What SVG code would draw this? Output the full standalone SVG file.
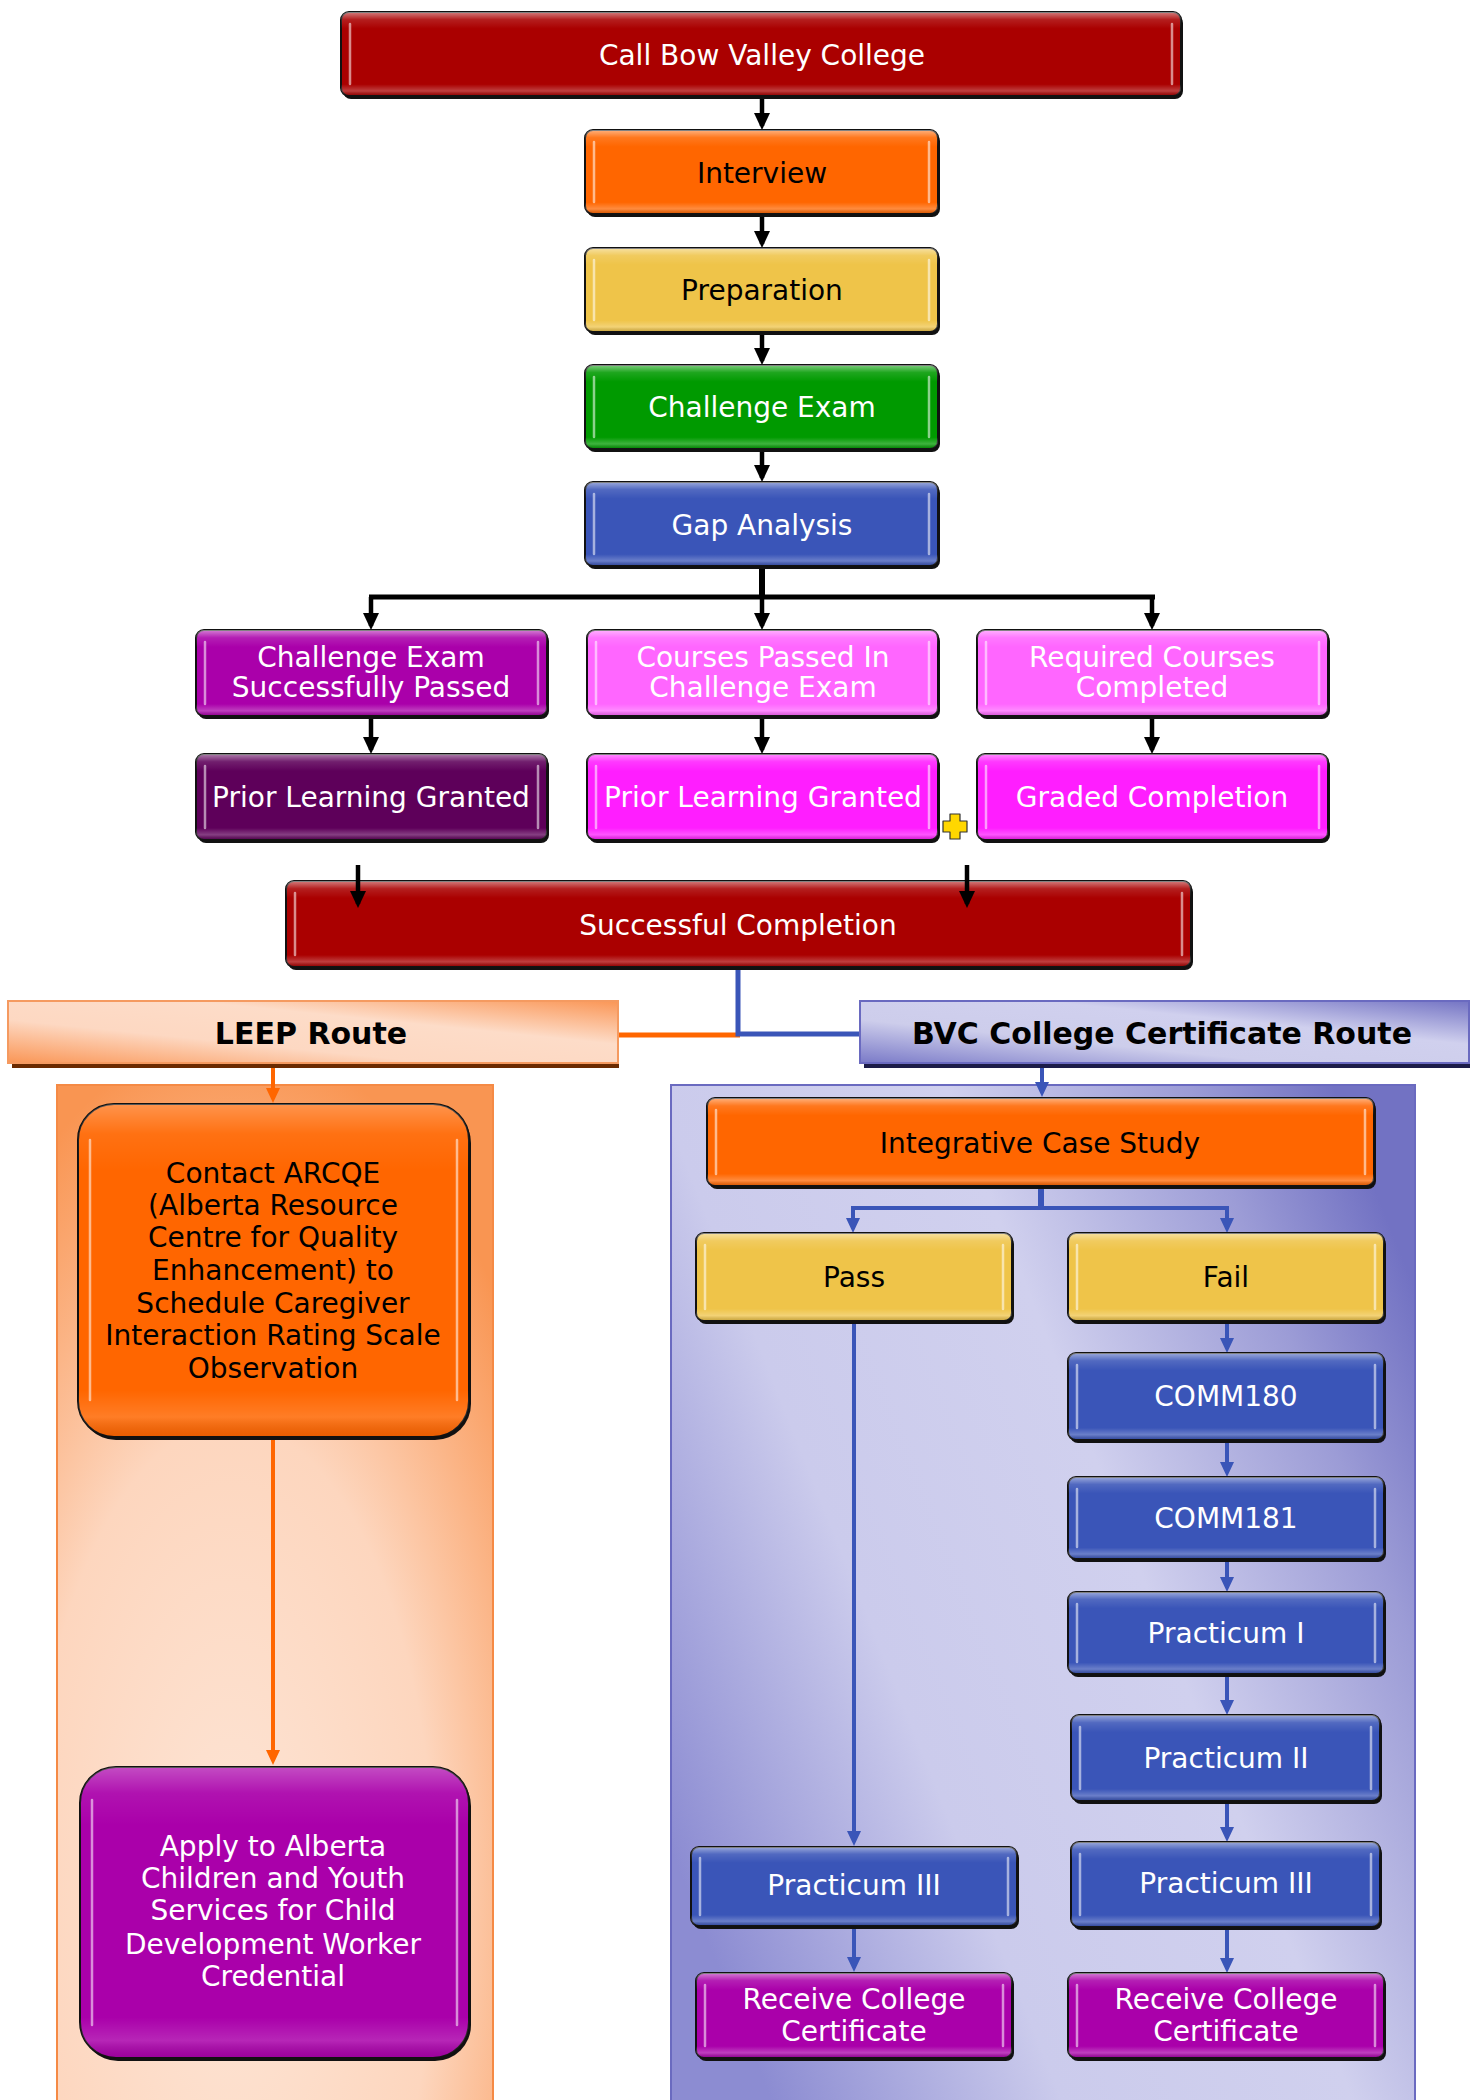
<svg xmlns="http://www.w3.org/2000/svg" width="1479" height="2100" viewBox="0 0 1479 2100">
<defs>
<style>
.t{font-family:"DejaVu Sans","Liberation Sans",sans-serif;font-size:28px;text-anchor:middle;fill:#fff}
.d{fill:#000}
.h{font-family:"DejaVu Sans","Liberation Sans",sans-serif;font-size:30px;font-weight:bold;text-anchor:middle;fill:#000}
.bx{stroke:#111;stroke-width:2}
.sh{fill:#111}
.hl{stroke:#fff;stroke-opacity:.55;stroke-width:2.5;fill:none;stroke-linecap:round}
.gl{fill:url(#gloss)}
.ck{stroke:#000;stroke-width:4.5;fill:none}
.cb{stroke:#3A55B8;stroke-width:4;fill:none}
.co{stroke:#FF6600;stroke-width:4;fill:none}
</style>
<linearGradient id="gloss" x1="0" y1="0" x2="0" y2="1">
<stop offset="0" stop-color="#fff" stop-opacity=".5"/>
<stop offset=".09" stop-color="#fff" stop-opacity=".12"/>
<stop offset=".2" stop-color="#fff" stop-opacity="0"/>
<stop offset=".86" stop-color="#fff" stop-opacity="0"/>
<stop offset=".94" stop-color="#fff" stop-opacity=".25"/>
<stop offset="1" stop-color="#000" stop-opacity=".15"/>
</linearGradient>
<radialGradient id="lp" cx=".4" cy=".8" r=".85">
<stop offset="0" stop-color="#FDE5D6"/>
<stop offset=".55" stop-color="#FDD6BE"/>
<stop offset="1" stop-color="#F99552"/>
</radialGradient>
<linearGradient id="rp" x1="0" y1=".75" x2="1" y2=".2">
<stop offset="0" stop-color="#8C8CD2"/>
<stop offset=".3" stop-color="#CBCBEC"/>
<stop offset=".6" stop-color="#D0D0EE"/>
<stop offset=".85" stop-color="#9C9CD6"/>
<stop offset="1" stop-color="#7272C3"/>
</linearGradient>
<linearGradient id="lh" x1="0" y1="1" x2="1" y2="0">
<stop offset="0" stop-color="#FA9656"/>
<stop offset=".35" stop-color="#FDD8C2"/>
<stop offset=".65" stop-color="#FDDCC8"/>
<stop offset="1" stop-color="#FA9656"/>
</linearGradient>
<linearGradient id="bh" x1="0" y1="1" x2="1" y2="0">
<stop offset="0" stop-color="#7A7AC8"/>
<stop offset=".35" stop-color="#CDCDEB"/>
<stop offset=".65" stop-color="#D0D0EE"/>
<stop offset="1" stop-color="#7474C4"/>
</linearGradient>
<marker id="ak" markerUnits="userSpaceOnUse" markerWidth="20" markerHeight="20" refX="13" refY="8" orient="auto"><path d="M0,0 L17,8 L0,16 z" fill="#000"/></marker>
<marker id="ab" markerUnits="userSpaceOnUse" markerWidth="18" markerHeight="18" refX="11" refY="7" orient="auto"><path d="M0,0 L15,7 L0,14 z" fill="#3A55B8"/></marker>
<marker id="ao" markerUnits="userSpaceOnUse" markerWidth="18" markerHeight="18" refX="11" refY="7" orient="auto"><path d="M0,0 L15,7 L0,14 z" fill="#FF6600"/></marker>
</defs>
<rect width="1479" height="2100" fill="#fff"/>

<g id="panels">
<rect x="57" y="1085" width="436" height="1020" fill="url(#lp)" stroke="#F58A45" stroke-width="2"/>
<rect x="671" y="1085" width="744" height="1020" fill="url(#rp)" stroke="#6A6AC0" stroke-width="2"/>
</g>

<g id="connectors">
<path class="ck" d="M762 96 V126" marker-end="url(#ak)"/>
<path class="ck" d="M762 214 V244" marker-end="url(#ak)"/>
<path class="ck" d="M762 333 V361" marker-end="url(#ak)"/>
<path class="ck" d="M762 450 V478" marker-end="url(#ak)"/>
<path d="M762 567 V597" stroke="#000" stroke-width="6"/>
<path d="M369 597 H1155" stroke="#000" stroke-width="5"/>
<path class="ck" d="M371 597 V626" marker-end="url(#ak)"/>
<path class="ck" d="M762 597 V626" marker-end="url(#ak)"/>
<path class="ck" d="M1152 597 V626" marker-end="url(#ak)"/>
<path class="ck" d="M371 717 V750" marker-end="url(#ak)"/>
<path class="ck" d="M762 717 V750" marker-end="url(#ak)"/>
<path class="ck" d="M1152 717 V750" marker-end="url(#ak)"/>
<path d="M618 1035 H740" stroke="#FF6600" stroke-width="5" fill="none"/>
<path d="M738 967 V1034 H860" stroke="#3A55B8" stroke-width="5" fill="none"/>
<path class="co" d="M273 1068 V1099" marker-end="url(#ao)"/>
<path class="co" d="M273 1437 V1761" marker-end="url(#ao)"/>
<path class="cb" d="M1042 1067 V1093" marker-end="url(#ab)"/>
<path d="M1041 1186 V1208" stroke="#3A55B8" stroke-width="6"/>
<path class="cb" d="M853 1229 V1208 H1227 V1229" marker-end="url(#ab)"/>
<path class="cb" d="M853 1208 V1229" marker-end="url(#ab)"/>
<path class="cb" d="M1227 1321 V1349" marker-end="url(#ab)"/>
<path class="cb" d="M1227 1440 V1473" marker-end="url(#ab)"/>
<path class="cb" d="M1227 1559 V1588" marker-end="url(#ab)"/>
<path class="cb" d="M1227 1674 V1711" marker-end="url(#ab)"/>
<path class="cb" d="M1227 1801 V1838" marker-end="url(#ab)"/>
<path class="cb" d="M1227 1927 V1969" marker-end="url(#ab)"/>
<path class="cb" d="M854 1321 V1842" marker-end="url(#ab)"/>
<path class="cb" d="M854 1926 V1968" marker-end="url(#ab)"/>
</g>

<g id="n-call">
<rect class="sh" x="343" y="15" width="840" height="84" rx="8"/>
<rect class="bx" x="341" y="12" width="840" height="84" rx="8" fill="#AA0000"/>
<rect class="gl" x="341" y="12" width="840" height="84" rx="8"/>
<path class="hl" d="M350 24 V84 M1172 24 V84"/>
<text class="t" x="762" y="65">Call Bow Valley College</text>
</g>

<g id="n-interview">
<rect class="sh" x="587" y="133" width="353" height="84" rx="8"/>
<rect class="bx" x="585" y="130" width="353" height="84" rx="8" fill="#FF6600"/>
<rect class="gl" x="585" y="130" width="353" height="84" rx="8"/>
<path class="hl" d="M594 142 V202 M929 142 V202"/>
<text class="t d" x="762" y="183">Interview</text>
</g>

<g id="n-prep">
<rect class="sh" x="587" y="251" width="353" height="84" rx="8"/>
<rect class="bx" x="585" y="248" width="353" height="84" rx="8" fill="#EFC449"/>
<rect class="gl" x="585" y="248" width="353" height="84" rx="8"/>
<path class="hl" d="M594 260 V320 M929 260 V320"/>
<text class="t d" x="762" y="300">Preparation</text>
</g>

<g id="n-challenge">
<rect class="sh" x="587" y="368" width="353" height="84" rx="8"/>
<rect class="bx" x="585" y="365" width="353" height="84" rx="8" fill="#009A00"/>
<rect class="gl" x="585" y="365" width="353" height="84" rx="8"/>
<path class="hl" d="M594 377 V437 M929 377 V437"/>
<text class="t" x="762" y="417">Challenge Exam</text>
</g>

<g id="n-gap">
<rect class="sh" x="587" y="485" width="353" height="84" rx="8"/>
<rect class="bx" x="585" y="482" width="353" height="84" rx="8" fill="#3A55B8"/>
<rect class="gl" x="585" y="482" width="353" height="84" rx="8"/>
<path class="hl" d="M594 494 V554 M929 494 V554"/>
<text class="t" x="762" y="535">Gap Analysis</text>
</g>

<g id="n-cesp">
<rect class="sh" x="198" y="633" width="351" height="86" rx="8"/>
<rect class="bx" x="196" y="630" width="351" height="86" rx="8" fill="#AA00AA"/>
<rect class="gl" x="196" y="630" width="351" height="86" rx="8"/>
<path class="hl" d="M205 642 V704 M538 642 V704"/>
<text class="t" x="371" y="667">Challenge Exam</text>
<text class="t" x="371" y="697">Successfully Passed</text>
</g>

<g id="n-cpce">
<rect class="sh" x="589" y="633" width="351" height="86" rx="8"/>
<rect class="bx" x="587" y="630" width="351" height="86" rx="8" fill="#FF66FF"/>
<rect class="gl" x="587" y="630" width="351" height="86" rx="8"/>
<path class="hl" d="M596 642 V704 M929 642 V704"/>
<text class="t" x="763" y="667">Courses Passed In</text>
<text class="t" x="763" y="697">Challenge Exam</text>
</g>

<g id="n-rcc">
<rect class="sh" x="979" y="633" width="351" height="86" rx="8"/>
<rect class="bx" x="977" y="630" width="351" height="86" rx="8" fill="#FF66FF"/>
<rect class="gl" x="977" y="630" width="351" height="86" rx="8"/>
<path class="hl" d="M986 642 V704 M1319 642 V704"/>
<text class="t" x="1152" y="667">Required Courses</text>
<text class="t" x="1152" y="697">Completed</text>
</g>

<g id="n-plg1">
<rect class="sh" x="198" y="757" width="351" height="86" rx="8"/>
<rect class="bx" x="196" y="754" width="351" height="86" rx="8" fill="#5E005A"/>
<rect class="gl" x="196" y="754" width="351" height="86" rx="8"/>
<path class="hl" d="M205 766 V828 M538 766 V828"/>
<text class="t" x="371" y="807">Prior Learning Granted</text>
</g>

<g id="n-plg2">
<rect class="sh" x="589" y="757" width="351" height="86" rx="8"/>
<rect class="bx" x="587" y="754" width="351" height="86" rx="8" fill="#FF1EFF"/>
<rect class="gl" x="587" y="754" width="351" height="86" rx="8"/>
<path class="hl" d="M596 766 V828 M929 766 V828"/>
<text class="t" x="763" y="807">Prior Learning Granted</text>
</g>

<g id="plus">
<path d="M950 814 H960 V821 H967 V832 H960 V839 H950 V832 H943 V821 H950 Z" fill="#FFD700" stroke="#333" stroke-width="1.2" stroke-linejoin="round"/>
</g>

<g id="n-graded">
<rect class="sh" x="979" y="757" width="351" height="86" rx="8"/>
<rect class="bx" x="977" y="754" width="351" height="86" rx="8" fill="#FF1EFF"/>
<rect class="gl" x="977" y="754" width="351" height="86" rx="8"/>
<path class="hl" d="M986 766 V828 M1319 766 V828"/>
<text class="t" x="1152" y="807">Graded Completion</text>
</g>

<g id="n-success">
<rect class="sh" x="288" y="884" width="905" height="86" rx="8"/>
<rect class="bx" x="286" y="881" width="905" height="86" rx="8" fill="#AA0000"/>
<rect class="gl" x="286" y="881" width="905" height="86" rx="8"/>
<path class="hl" d="M295 893 V955 M1182 893 V955"/>
<text class="t" x="738" y="935">Successful Completion</text>
</g>
<g id="connectors-2">
<path class="ck" d="M358 865 V904" marker-end="url(#ak)"/>
<path class="ck" d="M967 865 V904" marker-end="url(#ak)"/>
</g>

<g id="n-leep">
<rect x="12" y="1005" width="607" height="63" fill="#6B2A00"/>
<rect x="8" y="1001" width="610" height="62" fill="url(#lh)" stroke="#F59A60" stroke-width="2"/>
<text class="h" x="311" y="1044">LEEP Route</text>
</g>

<g id="n-bvc">
<rect x="864" y="1005" width="606" height="63" fill="#1C1C48"/>
<rect x="860" y="1001" width="609" height="62" fill="url(#bh)" stroke="#6A6AC0" stroke-width="2"/>
<text class="h" x="1162" y="1044">BVC College Certificate Route</text>
</g>

<g id="n-contact">
<rect class="sh" x="80" y="1107" width="391" height="333" rx="36"/>
<rect class="bx" x="78" y="1104" width="391" height="333" rx="36" fill="#FF6600"/>
<rect class="gl" x="78" y="1104" width="391" height="333" rx="36" opacity=".6"/>
<path class="hl" d="M90 1140 V1400 M457 1140 V1400"/>
<text class="t d" x="273" y="1183">Contact ARCQE</text>
<text class="t d" x="273" y="1215">(Alberta Resource</text>
<text class="t d" x="273" y="1247">Centre for Quality</text>
<text class="t d" x="273" y="1280">Enhancement) to</text>
<text class="t d" x="273" y="1313">Schedule Caregiver</text>
<text class="t d" x="273" y="1345">Interaction Rating Scale</text>
<text class="t d" x="273" y="1378">Observation</text>
</g>

<g id="n-apply">
<rect class="sh" x="82" y="1770" width="389" height="291" rx="36"/>
<rect class="bx" x="80" y="1767" width="389" height="291" rx="36" fill="#AA00AA"/>
<rect class="gl" x="80" y="1767" width="389" height="291" rx="36" opacity=".6"/>
<path class="hl" d="M92 1800 V2025 M457 1800 V2025"/>
<text class="t" x="273" y="1856">Apply to Alberta</text>
<text class="t" x="273" y="1888">Children and Youth</text>
<text class="t" x="273" y="1920">Services for Child</text>
<text class="t" x="273" y="1954">Development Worker</text>
<text class="t" x="273" y="1986">Credential</text>
</g>

<g id="n-ics">
<rect class="sh" x="709" y="1101" width="667" height="88" rx="8"/>
<rect class="bx" x="707" y="1098" width="667" height="88" rx="8" fill="#FF6600"/>
<rect class="gl" x="707" y="1098" width="667" height="88" rx="8"/>
<path class="hl" d="M716 1110 V1174 M1365 1110 V1174"/>
<text class="t d" x="1040" y="1153">Integrative Case Study</text>
</g>

<g id="n-pass">
<rect class="sh" x="698" y="1236" width="316" height="88" rx="8"/>
<rect class="bx" x="696" y="1233" width="316" height="88" rx="8" fill="#EFC449"/>
<rect class="gl" x="696" y="1233" width="316" height="88" rx="8"/>
<path class="hl" d="M705 1245 V1309 M1003 1245 V1309"/>
<text class="t d" x="854" y="1287">Pass</text>
</g>

<g id="n-fail">
<rect class="sh" x="1070" y="1236" width="316" height="88" rx="8"/>
<rect class="bx" x="1068" y="1233" width="316" height="88" rx="8" fill="#EFC449"/>
<rect class="gl" x="1068" y="1233" width="316" height="88" rx="8"/>
<path class="hl" d="M1077 1245 V1309 M1375 1245 V1309"/>
<text class="t d" x="1226" y="1287">Fail</text>
</g>

<g id="n-comm180">
<rect class="sh" x="1070" y="1356" width="316" height="87" rx="8"/>
<rect class="bx" x="1068" y="1353" width="316" height="87" rx="8" fill="#3A55B8"/>
<rect class="gl" x="1068" y="1353" width="316" height="87" rx="8"/>
<path class="hl" d="M1077 1365 V1428 M1375 1365 V1428"/>
<text class="t" x="1226" y="1406">COMM180</text>
</g>

<g id="n-comm181">
<rect class="sh" x="1070" y="1480" width="316" height="82" rx="8"/>
<rect class="bx" x="1068" y="1477" width="316" height="82" rx="8" fill="#3A55B8"/>
<rect class="gl" x="1068" y="1477" width="316" height="82" rx="8"/>
<path class="hl" d="M1077 1489 V1547 M1375 1489 V1547"/>
<text class="t" x="1226" y="1528">COMM181</text>
</g>

<g id="n-p1">
<rect class="sh" x="1070" y="1595" width="316" height="82" rx="8"/>
<rect class="bx" x="1068" y="1592" width="316" height="82" rx="8" fill="#3A55B8"/>
<rect class="gl" x="1068" y="1592" width="316" height="82" rx="8"/>
<path class="hl" d="M1077 1604 V1662 M1375 1604 V1662"/>
<text class="t" x="1226" y="1643">Practicum I</text>
</g>

<g id="n-p2">
<rect class="sh" x="1073" y="1718" width="309" height="86" rx="8"/>
<rect class="bx" x="1071" y="1715" width="309" height="86" rx="8" fill="#3A55B8"/>
<rect class="gl" x="1071" y="1715" width="309" height="86" rx="8"/>
<path class="hl" d="M1080 1727 V1789 M1371 1727 V1789"/>
<text class="t" x="1226" y="1768">Practicum II</text>
</g>

<g id="n-p3r">
<rect class="sh" x="1073" y="1845" width="309" height="85" rx="8"/>
<rect class="bx" x="1071" y="1842" width="309" height="85" rx="8" fill="#3A55B8"/>
<rect class="gl" x="1071" y="1842" width="309" height="85" rx="8"/>
<path class="hl" d="M1080 1854 V1915 M1371 1854 V1915"/>
<text class="t" x="1226" y="1893">Practicum III</text>
</g>

<g id="n-rcr">
<rect class="sh" x="1070" y="1976" width="316" height="85" rx="8"/>
<rect class="bx" x="1068" y="1973" width="316" height="85" rx="8" fill="#AA00AA"/>
<rect class="gl" x="1068" y="1973" width="316" height="85" rx="8"/>
<path class="hl" d="M1077 1985 V2046 M1375 1985 V2046"/>
<text class="t" x="1226" y="2009">Receive College</text>
<text class="t" x="1226" y="2041">Certificate</text>
</g>

<g id="n-p3l">
<rect class="sh" x="693" y="1850" width="326" height="79" rx="8"/>
<rect class="bx" x="691" y="1847" width="326" height="79" rx="8" fill="#3A55B8"/>
<rect class="gl" x="691" y="1847" width="326" height="79" rx="8"/>
<path class="hl" d="M700 1858 V1915 M1008 1858 V1915"/>
<text class="t" x="854" y="1895">Practicum III</text>
</g>

<g id="n-rcl">
<rect class="sh" x="698" y="1976" width="316" height="85" rx="8"/>
<rect class="bx" x="696" y="1973" width="316" height="85" rx="8" fill="#AA00AA"/>
<rect class="gl" x="696" y="1973" width="316" height="85" rx="8"/>
<path class="hl" d="M705 1985 V2046 M1003 1985 V2046"/>
<text class="t" x="854" y="2009">Receive College</text>
<text class="t" x="854" y="2041">Certificate</text>
</g>
</svg>
